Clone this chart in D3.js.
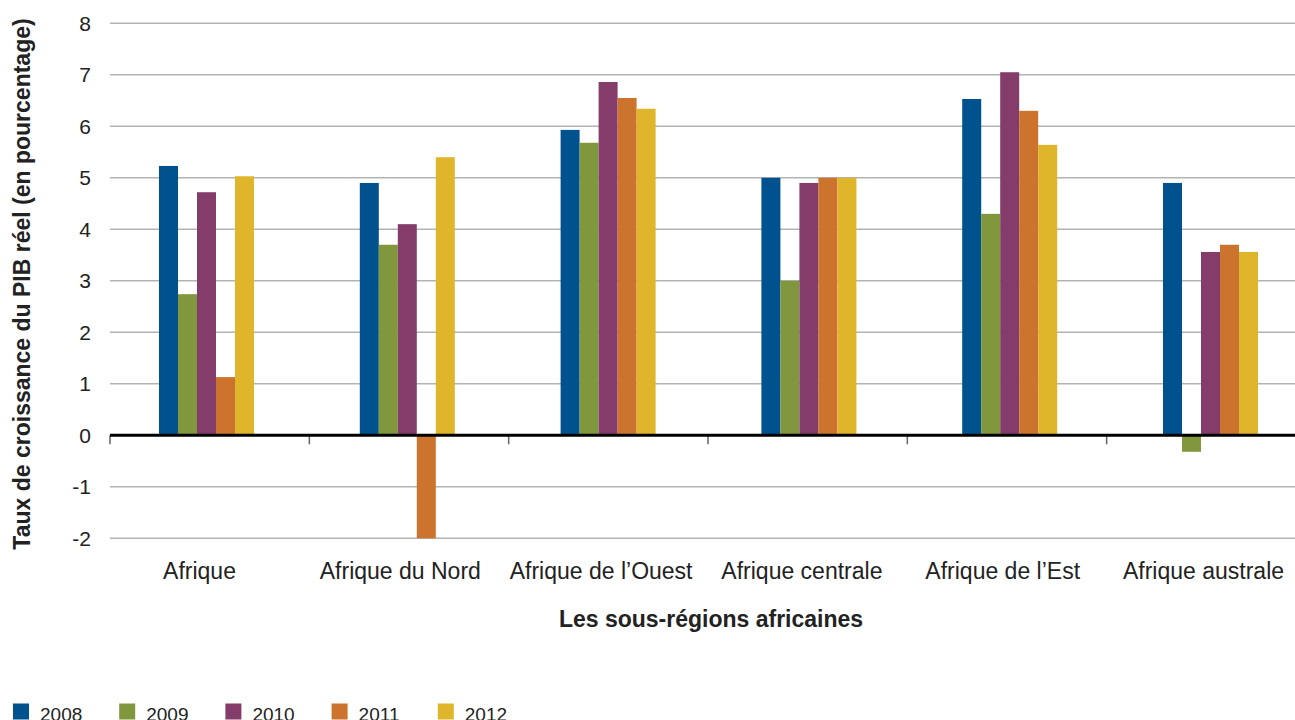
<!DOCTYPE html>
<html>
<head>
<meta charset="utf-8">
<script src="https://cdn.jsdelivr.net/npm/d3@7"></script>
<style>
  body { margin: 0; background: #fff; }
  svg { display: block; font-family: "Liberation Sans", Arial, sans-serif; }
</style>
</head>
<body>
<svg id="chart" width="1295" height="720"></svg>
<script>
// regions along the x axis
var regions = ["Afrique", "Afrique du Nord", "Afrique de l\u2019Ouest", "Afrique centrale", "Afrique de l\u2019Est", "Afrique australe"];
var years = ["2008", "2009", "2010", "2011", "2012"];
var colors = ["#00528f", "#81973e", "#843d6b", "#cc742d", "#dfb52c"];

// growth per year, one value per region
var v2008 = [5.23, 4.9, 5.93, 5.0, 6.53, 4.9];
var v2009 = [2.74, 3.7, 5.68, 3.0, 4.3, -0.32];
var v2010 = [4.72, 4.1, 6.86, 4.9, 7.05, 3.56];
var v2011 = [1.13, -2.0, 6.55, 5.0, 6.3, 3.7];
var v2012 = [5.03, 5.4, 6.34, 5.0, 5.64, 3.56];
var series = [v2008, v2009, v2010, v2011, v2012];

var yTicks = [-2, -1, 0, 1, 2, 3, 4, 5, 6, 7, 8];

var svg = d3.select("#chart");
var mLeft = 110, mRight = 1306, mTop = 23.3, mBottom = 538.3;

// category boundaries (ticks) and bar groups are spaced a little differently
var x0 = d3.scaleBand().domain(regions).range([mLeft, mRight]);
var xb = d3.scaleBand().domain(regions).range([159, 159 + 6 * 200.8]);
var x1 = d3.scaleBand().domain(years).range([0, 95]);
var y = d3.scaleLinear().domain([-2, 8]).range([mBottom, mTop]);

// gridlines
svg.append("g").selectAll("line")
    .data(yTicks.filter(function(d) { return d != 0 }))
    .enter().append("line")
    .attr("x1", mLeft).attr("x2", 1295)
    .attr("y1", function(d) { return y(d) }).attr("y2", function(d) { return y(d) })
    .attr("stroke", "#b3b3b3").attr("stroke-width", 1.5);

// y tick labels
svg.append("g").selectAll("text")
    .data(yTicks)
    .enter().append("text")
    .attr("x", 91)
    .attr("y", function(d) { return y(d) })
    .attr("dy", "0.36em")
    .attr("text-anchor", "end")
    .attr("font-size", 21)
    .attr("fill", "#222")
    .text(function(d) { return d });

// bars
var groups = svg.append("g").selectAll("g")
    .data(regions)
    .enter().append("g")
    .attr("transform", function(d) { return "translate(" + xb(d) + ",0)" });

groups.selectAll("rect")
    .data(function(r, i) {
      return years.map(function(yr, j) { return {year: yr, value: series[j][i], color: colors[j]} });
    })
    .enter().append("rect")
    .attr("x", function(d) { return x1(d.year) })
    .attr("width", x1.bandwidth())
    .attr("y", function(d) { return y(Math.max(0, d.value)) })
    .attr("height", function(d) { return Math.abs(y(d.value) - y(0)) })
    .attr("fill", function(d) { return d.color });

// zero line with category ticks
var edges = regions.map(function(r) { return x0(r) });
svg.append("g").selectAll("line")
    .data(edges)
    .enter().append("line")
    .attr("x1", function(d) { return d }).attr("x2", function(d) { return d })
    .attr("y1", y(0)).attr("y2", y(0) + 9)
    .attr("stroke", "#666").attr("stroke-width", 1.5);

svg.append("line")
    .attr("x1", mLeft).attr("x2", 1295)
    .attr("y1", y(0)).attr("y2", y(0))
    .attr("stroke", "#000").attr("stroke-width", 3);

// category labels
svg.append("g").selectAll("text")
    .data(regions)
    .enter().append("text")
    .attr("x", function(d) { return xb(d) + 40.5 })
    .attr("y", 579)
    .attr("text-anchor", "middle")
    .attr("font-size", 23)
    .attr("fill", "#222")
    .text(function(d) { return d });

// axis titles
svg.append("text")
    .attr("x", 711).attr("y", 627)
    .attr("text-anchor", "middle")
    .attr("font-size", 23).attr("font-weight", "bold")
    .attr("fill", "#222")
    .text("Les sous-r\u00e9gions africaines");

svg.append("text")
    .attr("transform", "translate(30,284) rotate(-90)")
    .attr("text-anchor", "middle")
    .attr("font-size", 23).attr("font-weight", "bold")
    .attr("fill", "#222")
    .text("Taux de croissance du PIB r\u00e9el (en pourcentage)");

// LEGEND
var legend = svg.append("g").selectAll("g")
    .data(years)
    .enter().append("g")
    .attr("transform", function(d, i) { return "translate(" + (13 + i * 106.2) + ",703.5)" });

legend.append("rect")
    .attr("width", 16).attr("height", 16)
    .attr("fill", function(d, i) { return colors[i] });

legend.append("text")
    .attr("x", 27).attr("y", 17)
    .attr("font-size", 19)
    .attr("fill", "#222")
    .text(function(d) { return d });
</script>
</body>
</html>
